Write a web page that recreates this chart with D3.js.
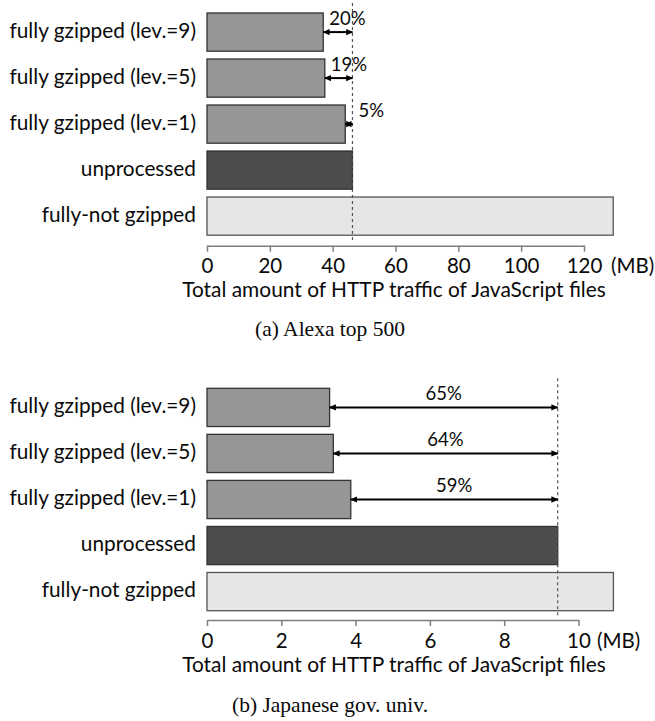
<!DOCTYPE html>
<html>
<head>
<meta charset="utf-8">
<script src="https://cdn.jsdelivr.net/npm/d3@7/dist/d3.min.js"></script>
<style>
  html, body { margin: 0; padding: 0; background: #fff; }
  svg { display: block; }
</style>
</head>
<body>
<div id="chart"></div>
<script>
// Categories, shared by both panels (top to bottom)
const categories = [
  "fully gzipped (lev.=9)",
  "fully gzipped (lev.=5)",
  "fully gzipped (lev.=1)",
  "unprocessed",
  "fully-not gzipped"
];

// (a) Alexa top 500 — traffic in MB
const alexaValues = [37.0, 37.5, 44.0, 46.3, 129.3];
const alexaReduction = ["20%", "19%", "5%"];
const alexaTicks = [0, 20, 40, 60, 80, 100, 120];

// (b) Japanese gov. univ. — traffic in MB
const univValues = [3.30, 3.40, 3.87, 9.44, 10.94];
const univReduction = ["65%", "64%", "59%"];
const univTicks = [0, 2, 4, 6, 8, 10];

const axisTitle = "Total amount of HTTP traffic of JavaScript files";
const unitLabel = "(MB)";

const W = 655, H = 721;
const sans = "Lato, 'Open Sans', sans-serif";
const serif = "'Liberation Serif', 'Times New Roman', serif";
const fills = ["#969696", "#969696", "#969696", "#4d4d4d", "#e6e6e6"];
const ink = "#0a0a0a";

const svg = d3.select("#chart").append("svg")
  .attr("width", W).attr("height", H);

const defs = svg.append("defs");
defs.append("marker")
  .attr("id", "head")
  .attr("viewBox", "0 0 10 10")
  .attr("refX", 9).attr("refY", 5)
  .attr("markerUnits", "userSpaceOnUse")
  .attr("markerWidth", 7).attr("markerHeight", 7)
  .attr("orient", "auto-start-reverse")
  .append("path").attr("d", "M0,0.5 L10,5 L0,9.5 Z").attr("fill", "#000");

function drawPanel(p) {
  const g = svg.append("g");
  const x = d3.scaleLinear()
    .domain([0, p.ticks[p.ticks.length - 1]])
    .range([207, p.xEnd]);
  const y = d3.scaleBand()
    .domain(categories)
    .range([p.top, p.bottom])
    .paddingInner(0.17).paddingOuter(0);

  // category labels
  g.selectAll("text.cat").data(categories).join("text")
    .attr("class", "cat")
    .attr("x", 196)
    .attr("y", d => y(d) + y.bandwidth() / 2)
    .attr("dy", "0.27em")
    .attr("text-anchor", "end")
    .attr("font-family", sans).attr("font-size", 20.8).attr("fill", ink)
    .text(d => d);

  // bars
  g.selectAll("rect.bar").data(p.values).join("rect")
    .attr("class", "bar")
    .attr("x", x(0))
    .attr("y", (d, i) => y(categories[i]))
    .attr("width", d => x(d) - x(0))
    .attr("height", y.bandwidth())
    .attr("fill", (d, i) => fills[i])
    .attr("stroke", (d, i) => i === 4 ? "#555" : "#333")
    .attr("stroke-width", 1.3);

  // reference line at the unprocessed total
  const ref = p.values[3];
  g.append("line")
    .attr("x1", x(ref)).attr("x2", x(ref))
    .attr("y1", p.top - 10).attr("y2", p.axisY - 4)
    .attr("stroke", "#555").attr("stroke-width", 1.2)
    .attr("stroke-dasharray", "3,3");

  // reduction arrows and labels
  p.reduction.forEach((lab, i) => {
    const cy = y(categories[i]) + y.bandwidth() / 2;
    const x0 = x(p.values[i]), x1 = x(ref);
    g.append("line")
      .attr("x1", x0).attr("x2", x1)
      .attr("y1", cy).attr("y2", cy)
      .attr("stroke", "#000").attr("stroke-width", 2)
      .attr("marker-start", "url(#head)")
      .attr("marker-end", "url(#head)");
    let tx, anchor;
    if (p.centerLabels) { tx = (x0 + x1) / 2; anchor = "middle"; }
    else if (x1 - x0 < 20) { tx = x1 + 6; anchor = "start"; }
    else { tx = x0 + 6; anchor = "start"; }
    g.append("text")
      .attr("x", tx).attr("y", cy - 7.5)
      .attr("text-anchor", anchor)
      .attr("font-family", sans).attr("font-size", 18.5).attr("fill", ink)
      .text(lab);
  });

  // x axis
  const ax = g.append("g")
    .attr("transform", `translate(0,${p.axisY})`)
    .call(d3.axisBottom(x).tickValues(p.ticks).tickSize(6).tickSizeOuter(0).tickPadding(7));
  ax.select(".domain").attr("stroke", "#7f7f7f").attr("stroke-width", 1.5);
  ax.selectAll(".tick line").attr("stroke", "#7f7f7f").attr("stroke-width", 1.5);
  ax.selectAll(".tick text")
    .attr("font-family", sans).attr("font-size", 20.5).attr("fill", ink);

  g.append("text")
    .attr("x", x(p.ticks[p.ticks.length - 1]) + p.unitOffset)
    .attr("y", p.axisY + 27.5)
    .attr("font-family", sans).attr("font-size", 20.5).attr("fill", ink)
    .text(unitLabel);

  g.append("text")
    .attr("x", 394).attr("y", p.axisY + 51.5)
    .attr("text-anchor", "middle")
    .attr("font-family", sans).attr("font-size", 20.9).attr("fill", ink)
    .text(axisTitle);

  g.append("text")
    .attr("x", 330).attr("y", p.captionY)
    .attr("text-anchor", "middle")
    .attr("font-family", serif).attr("font-size", 21.5).attr("fill", ink)
    .text(p.caption);
}

drawPanel({
  values: alexaValues, reduction: alexaReduction, ticks: alexaTicks,
  xEnd: 584, top: 13, bottom: 235.2, axisY: 245.7,
  centerLabels: false, unitOffset: 27,
  caption: "(a) Alexa top 500", captionY: 336
});

drawPanel({
  values: univValues, reduction: univReduction, ticks: univTicks,
  xEnd: 578.5, top: 388.3, bottom: 610.7, axisY: 620,
  centerLabels: true, unitOffset: 18.5,
  caption: "(b) Japanese gov. univ.", captionY: 712
});
</script>
</body>
</html>
